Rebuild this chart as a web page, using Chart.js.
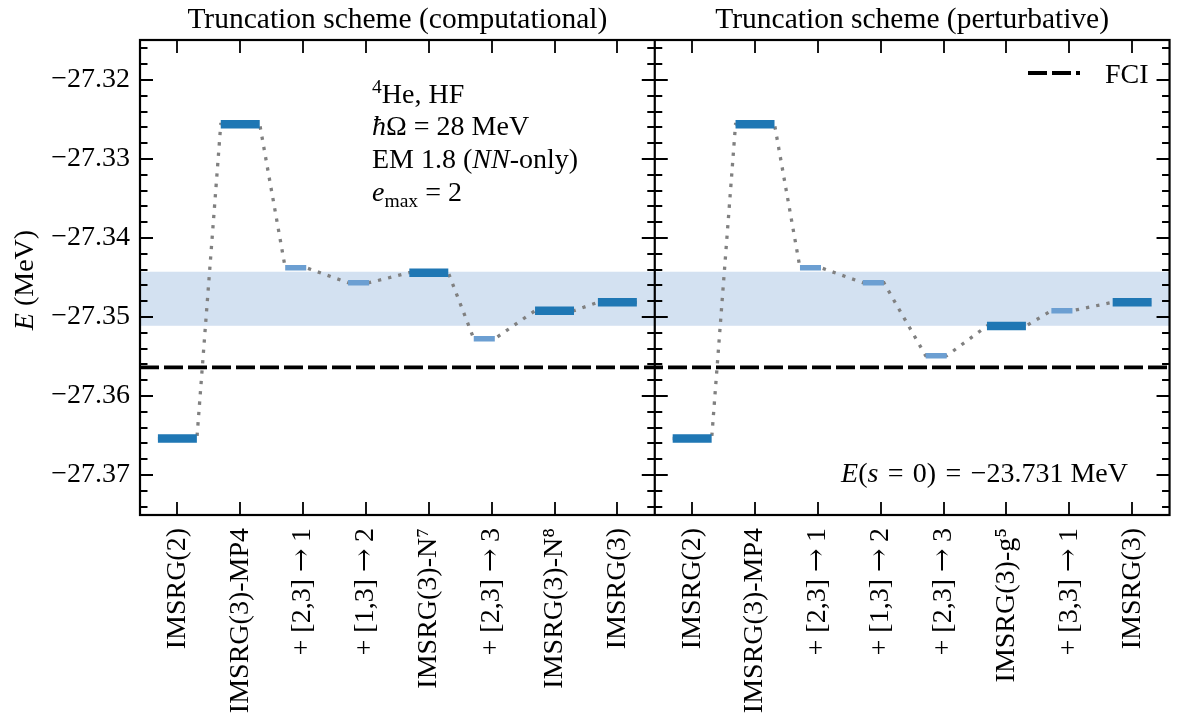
<!DOCTYPE html>
<html><head><meta charset="utf-8">
<script src="https://cdn.jsdelivr.net/npm/chart.js@4.4.0/dist/chart.umd.min.js"></script>
<style>
html,body{margin:0;padding:0;background:#fff;} canvas{display:block;}
@font-face { font-family: 'ArrowSerif'; src: local('DejaVu Serif'), local('DejaVuSerif'); unicode-range: U+2192; }
</style>
</head><body>
<canvas id="c" width="1179" height="715"></canvas>
<script>
// ---------------- data ----------------
const compLabels = ['IMSRG(2)', 'IMSRG(3)-MP4', '+ [2,3] \u2192 1', '+ [1,3] \u2192 2', 'IMSRG(3)-N\u2077', '+ [2,3] \u2192 3', 'IMSRG(3)-N\u2078', 'IMSRG(3)'];
const compEnergies = [-27.36538, -27.32561, -27.34376, -27.34566, -27.34439, -27.35275, -27.34920, -27.34814];
const compKinds = ['full', 'full', 'partial', 'partial', 'full', 'partial', 'full', 'full'];

const pertLabels = ['IMSRG(2)', 'IMSRG(3)-MP4', '+ [2,3] \u2192 1', '+ [1,3] \u2192 2', '+ [2,3] \u2192 3', 'IMSRG(3)-g\u2075', '+ [3,3] \u2192 1', 'IMSRG(3)'];
const pertEnergies = [-27.36538, -27.32561, -27.34376, -27.34566, -27.35490, -27.35114, -27.34920, -27.34814];
const pertKinds = ['full', 'full', 'partial', 'partial', 'partial', 'full', 'partial', 'full'];

const fciEnergy = -27.35637;
const bandHigh = -27.34427;
const bandLow = -27.35111;
const yMajorTicks = [-27.37, -27.36, -27.35, -27.34, -27.33, -27.32];
const yMinorTicks = [-27.374, -27.372, -27.368, -27.366, -27.364, -27.362, -27.358, -27.356, -27.354, -27.352,
  -27.348, -27.346, -27.344, -27.342, -27.338, -27.336, -27.334, -27.332, -27.328, -27.326, -27.324, -27.322, -27.318, -27.316];
const panelTitles = ['Truncation scheme (computational)', 'Truncation scheme (perturbative)'];
const Y_MIN = -27.37506, Y_MAX = -27.31494;

// ---------------- layout helpers ----------------
const FONT = '"Liberation Serif", "DejaVu Serif", serif';
const TICK_FONT = 'ArrowSerif, "Liberation Serif", "DejaVu Serif", serif';
const FS = 28;
const X_MIN = -0.595, PANEL_SPAN = 8.19, X_MAX = X_MIN + 2 * PANEL_SPAN;
const DIVIDER = X_MIN + PANEL_SPAN;

const panels = [
  {labels: compLabels, energies: compEnergies, kinds: compKinds, offset: 0},
  {labels: pertLabels, energies: pertEnergies, kinds: pertKinds, offset: PANEL_SPAN}
];

const fullSeg = [], partSeg = [], connector = [];
panels.forEach(p => {
  p.energies.forEach((e, i) => {
    const c = i + p.offset;
    const ab = p.kinds[i] === 'full' ? [c - 0.31, c + 0.31] : [c - 0.285, c + 0.05];
    const tgt = p.kinds[i] === 'full' ? fullSeg : partSeg;
    tgt.push({x: ab[0], y: e}, {x: ab[1], y: e}, {x: ab[1], y: null});
    connector.push({x: ab[0], y: e}, {x: ab[1], y: e});
  });
  connector.push({x: p.offset + 7.5, y: null});
});
const xTickValues = panels.flatMap(p => p.labels.map((_, i) => i + p.offset));
const xTickLabels = panels.flatMap(p => p.labels);

function drawRich(ctx, segs, x, y, size, align) {
  const parts = segs.map(s => {
    const fs = (s.sup || s.sub) ? size * 0.7 : size;
    const font = (s.it ? 'italic ' : '') + fs + 'px ' + FONT;
    ctx.font = font;
    return {s, font, w: ctx.measureText(s.t).width, dy: s.sup ? -size * 0.36 : (s.sub ? size * 0.22 : 0)};
  });
  const total = parts.reduce((a, p) => a + p.w, 0);
  let cx = align === 'right' ? x - total : (align === 'center' ? x - total / 2 : x);
  ctx.textAlign = 'left';
  ctx.textBaseline = 'alphabetic';
  ctx.fillStyle = '#000';
  parts.forEach(p => { ctx.font = p.font; ctx.fillText(p.s.t, cx, y + p.dy); cx += p.w; });
}

const decor = {
  id: 'decor',
  beforeDatasetsDraw(chart) {
    const {ctx, chartArea: a, scales: {y}} = chart;
    ctx.save();
    ctx.fillStyle = '#d3e1f1';
    const y1 = y.getPixelForValue(bandHigh), y2 = y.getPixelForValue(bandLow);
    ctx.fillRect(a.left, y1, a.right - a.left, y2 - y1);
    ctx.restore();
  },
  afterDraw(chart) {
    const {ctx, chartArea: a, scales: {x, y}} = chart;
    const div = x.getPixelForValue(DIVIDER);
    ctx.save();
    ctx.strokeStyle = '#000';
    // ticks
    ctx.lineWidth = 1.8;
    ctx.beginPath();
    const edges = [[a.left, 1], [div, -1], [div, 1], [a.right, -1]];
    edges.forEach(([ex, dir]) => {
      yMajorTicks.forEach(v => { const py = Math.round(y.getPixelForValue(v)); ctx.moveTo(ex, py); ctx.lineTo(ex + dir * 13, py); });
      yMinorTicks.forEach(v => { const py = Math.round(y.getPixelForValue(v)); ctx.moveTo(ex, py); ctx.lineTo(ex + dir * 7.5, py); });
    });
    xTickValues.forEach(v => {
      const px = Math.round(x.getPixelForValue(v));
      ctx.moveTo(px, a.top); ctx.lineTo(px, a.top + 13);
      ctx.moveTo(px, a.bottom); ctx.lineTo(px, a.bottom - 13);
    });
    ctx.stroke();
    // frame
    ctx.lineWidth = 2.2;
    ctx.strokeRect(a.left, a.top, a.right - a.left, a.bottom - a.top);
    ctx.beginPath(); ctx.moveTo(div, a.top); ctx.lineTo(div, a.bottom); ctx.stroke();

    // titles
    const centers = [(a.left + div) / 2, (div + a.right) / 2];
    panelTitles.forEach((t, i) => drawRich(ctx, [{t}], centers[i], 28, 29.5, 'center'));

    // annotation box, left panel
    const ax = 372;
    drawRich(ctx, [{t: '4', sup: true}, {t: 'He, HF'}], ax, 103, FS, 'left');
    drawRich(ctx, [{t: '\u0127', it: true}, {t: '\u03A9 = 28 MeV'}], ax, 135, FS, 'left');
    drawRich(ctx, [{t: 'EM 1.8 ('}, {t: 'NN', it: true}, {t: '-only)'}], ax, 168, FS, 'left');
    drawRich(ctx, [{t: 'e', it: true}, {t: 'max', sub: true}, {t: ' = 2'}], ax, 201, FS, 'left');

    // right panel annotation
    drawRich(ctx, [{t: 'E', it: true}, {t: '('}, {t: 's', it: true}, {t: '\u2004=\u20040)\u2004=\u2004\u221223.731 MeV'}], 1128, 482, FS, 'right');

    // legend
    ctx.setLineDash([19, 5]);
    ctx.lineWidth = 3.8;
    ctx.beginPath(); ctx.moveTo(1028, 73); ctx.lineTo(1080, 73); ctx.stroke();
    ctx.setLineDash([]);
    drawRich(ctx, [{t: 'FCI'}], 1105, 83, FS, 'left');

    // y title
    ctx.translate(33, 280);
    ctx.rotate(-Math.PI / 2);
    drawRich(ctx, [{t: 'E', it: true}, {t: ' (MeV)'}], 0, 0, FS, 'center');
    ctx.restore();
  }
};

function build() {
  new Chart(document.getElementById('c'), {
    type: 'line',
    data: {
      datasets: [
        {label: 'full', data: fullSeg, borderColor: '#1f77b4', borderWidth: 8.4, borderCapStyle: 'butt', pointRadius: 0, order: 0},
        {label: 'partial', data: partSeg, borderColor: '#6c9fd2', borderWidth: 5.5, borderCapStyle: 'butt', pointRadius: 0, order: 1},
        {label: 'path', data: connector, borderColor: '#808080', borderWidth: 3.3, borderDash: [3.3, 7.1], borderCapStyle: 'butt', pointRadius: 0, order: 2},
        {label: 'FCI', data: [{x: X_MIN, y: fciEnergy}, {x: X_MAX, y: fciEnergy}], borderColor: '#000', borderWidth: 3.8, borderDash: [19, 5], borderCapStyle: 'butt', pointRadius: 0, order: 3}
      ]
    },
    options: {
      responsive: false,
      animation: false,
      devicePixelRatio: 1,
      layout: {padding: {top: 40, right: 7, left: 0, bottom: 0}},
      plugins: {legend: {display: false}, tooltip: {enabled: false}, title: {display: false}},
      elements: {line: {tension: 0}},
      scales: {
        x: {
          type: 'linear', min: X_MIN, max: X_MAX,
          grid: {display: false, drawTicks: false}, border: {display: false},
          afterBuildTicks: s => { s.ticks = xTickValues.map(v => ({value: v})); },
          afterFit: s => { s.height = 200; },
          ticks: {autoSkip: false, maxRotation: 90, minRotation: 90, padding: 13, color: '#000',
            font: {family: TICK_FONT, size: FS}, callback: (v, i) => xTickLabels[i]}
        },
        y: {
          type: 'linear', min: Y_MIN, max: Y_MAX,
          grid: {display: false, drawTicks: false}, border: {display: false},
          afterBuildTicks: s => { s.ticks = yMajorTicks.map(v => ({value: v})); },
          afterFit: s => { s.width = 140; },
          ticks: {padding: 10, color: '#000', font: {family: FONT, size: FS},
            callback: v => v.toFixed(2).replace('-', '\u2212')}
        }
      }
    },
    plugins: [decor]
  });
}
let built = false;
function once() { if (!built) { built = true; build(); } }
if (document.fonts && document.fonts.load) {
  document.fonts.load('28px ArrowSerif', '\u2192').then(once, once);
  setTimeout(once, 1500);
} else { once(); }
</script>
</body></html>
